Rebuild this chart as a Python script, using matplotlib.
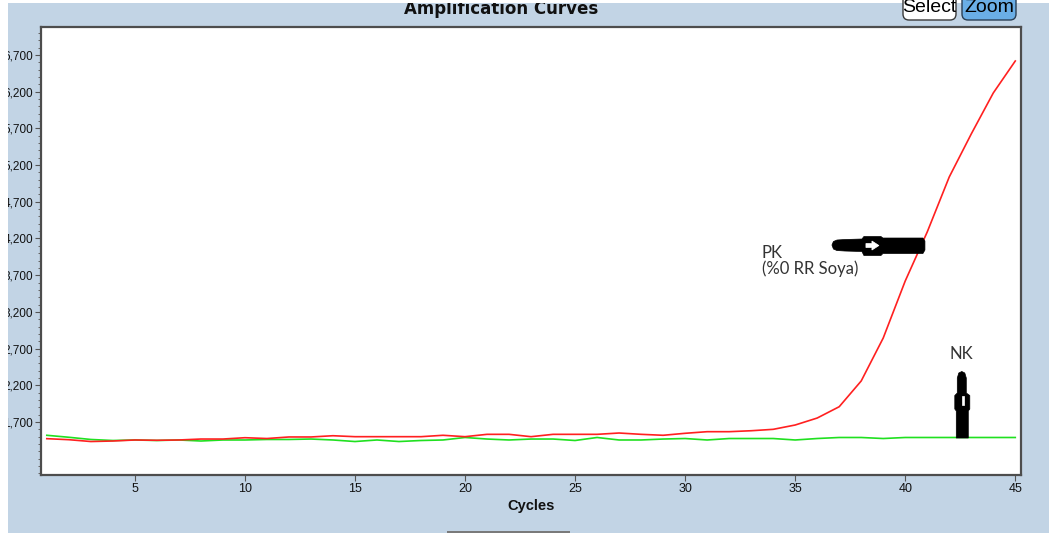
import matplotlib
matplotlib.use("Agg")
import matplotlib.pyplot as plt
import matplotlib.transforms as mtransforms
from matplotlib.patches import Rectangle, Polygon, FancyBboxPatch
from matplotlib.ticker import MultipleLocator, FuncFormatter

# ---------------- data ----------------
cycles = list(range(1, 46))
pk_values = [1473, 1459, 1434, 1441, 1455, 1451, 1455, 1468, 1468, 1486,
             1475, 1496, 1496, 1513, 1500, 1500, 1500, 1500, 1519, 1500,
             1532, 1532, 1500, 1532, 1532, 1532, 1550, 1532, 1519, 1546,
             1568, 1568, 1581, 1600, 1659, 1754, 1908, 2259, 2844, 3621,
             4289, 5038, 5624, 6182, 6618]
nk_values = [1519, 1492, 1462, 1448, 1455, 1448, 1455, 1441, 1455, 1455,
             1462, 1462, 1468, 1455, 1434, 1455, 1434, 1448, 1455, 1489,
             1468, 1455, 1468, 1468, 1448, 1489, 1455, 1455, 1468, 1475,
             1455, 1475, 1475, 1475, 1455, 1475, 1489, 1489, 1475, 1489,
             1489, 1489, 1489, 1489, 1489]
x_ticks = [5, 10, 15, 20, 25, 30, 35, 40, 45]
y_ticks = [1700, 2200, 2700, 3200, 3700, 4200, 4700, 5200, 5700, 6200, 6700]
title = "Amplification Curves"
x_label = "Cycles"
pk_label_1 = "PK"
pk_label_2 = "(%0 RR Soya)"
nk_label = "NK"

# ---------------- figure ----------------
W, H = 1049, 533
BG = "#c2d4e5"
fig = plt.figure(figsize=(W / 100, H / 100), dpi=100, facecolor=BG)
ax = fig.add_axes([41 / W, 58 / H, 980 / W, 448 / H])
ax.set_facecolor("white")

ax.plot(cycles, nk_values, color="#20e020", lw=1.2, zorder=3)
ax.plot(cycles, pk_values, color="#ff2020", lw=1.2, zorder=4)

ax.set_xlim(0.736, 45.26)
ax.set_ylim(978, 7081)
ax.set_xticks(x_ticks)
ax.set_yticks(y_ticks)
ax.yaxis.set_minor_locator(MultipleLocator(100))
ax.yaxis.set_major_formatter(FuncFormatter(lambda v, p: f"{v:,.0f}"))

for sp in ax.spines.values():
    sp.set_color("#4d4d4d")
    sp.set_linewidth(1.6)

ax.tick_params(axis="both", which="major", length=4.3, width=0.8, color="#555555",
               labelcolor="#111111", pad=1.5)
ax.tick_params(axis="x", which="major", labelsize=9)
ax.tick_params(axis="y", which="major", labelsize=8.5)
ax.tick_params(axis="y", which="minor", length=2.2, width=0.7, color="#666666")
for lab in ax.get_xticklabels() + ax.get_yticklabels():
    lab.set_fontfamily("Liberation Sans")

ax.set_xlabel(x_label, fontsize=10.5, fontweight="bold", family="Liberation Sans",
              labelpad=3, color="#111111")

# annotation texts
ax.text(33.49, 3930, pk_label_1, fontsize=12, family="Lato", color="#333333",
        ha="left", va="baseline", zorder=6)
ax.text(33.49, 3717, pk_label_2, fontsize=12, family="Lato", color="#333333",
        ha="left", va="baseline", zorder=6)
ax.text(42.56, 2554, nk_label, fontsize=12, family="Lato", color="#333333",
        ha="center", va="baseline", zorder=6)


# annotation arrows (shapes defined in pixel offsets around an anchor point)
def pixel_shape(anchor_data, anchor_img, verts_img, color, z=7):
    ax_disp = ax.transData.transform(anchor_data)
    ax_x, ax_y = anchor_img
    verts = [(x - ax_x, -(y - ax_y)) for (x, y) in verts_img]
    tr = mtransforms.Affine2D().translate(ax_disp[0], ax_disp[1])
    p = Polygon(verts, closed=True, facecolor=color, edgecolor=color,
                lw=0.5, transform=tr, zorder=z)
    fig.add_artist(p)


pk_anchor_img = (924, 245)
pk_shape = [(832, 245), (833.5, 241.5), (837, 240), (845, 239.5), (862, 239),
            (864, 236.5), (881, 236.5), (883, 238), (923, 238), (925, 241),
            (925, 250), (923, 253.5), (883, 253.5), (881, 255.5), (864, 255.5),
            (862, 251.5), (845, 251), (837, 250.5), (833.5, 249)]
pk_white = [(866, 243.5), (872, 243.5), (872, 241), (879, 245.5), (872, 250),
            (872, 247.5), (866, 247.5)]
pixel_shape((40.85, 4111), pk_anchor_img, pk_shape, "black")
pixel_shape((40.85, 4111), pk_anchor_img, pk_white, "white", z=8)

nk_anchor_img = (964, 438)
nk_shape = [(964, 371.5), (967, 373), (968.5, 378), (968.5, 393), (972, 395.5),
            (972, 409), (970.5, 411), (970.5, 438), (958.5, 438), (958.5, 411),
            (957, 409), (957, 395.5), (959.5, 393), (959.5, 378), (961, 373)]
nk_white = [(964, 396), (966, 396), (966, 405), (964, 405)]
pixel_shape((42.57, 1482), nk_anchor_img, nk_shape, "black")
pixel_shape((42.57, 1482), nk_anchor_img, nk_white, "white", z=8)

# title (cut at top like in the screenshot)
fig.text(501.5 / W, (H - 13.5) / H, title, fontsize=12, fontweight="bold",
         family="DejaVu Sans", color="#111111", ha="center", va="baseline")

# screenshot chrome
ident = mtransforms.IdentityTransform()
fig.add_artist(Rectangle((0, H - 3), W, 3, transform=ident, facecolor="white",
                         edgecolor="none", zorder=20))
fig.add_artist(Rectangle((0, 0), 8, H, transform=ident, facecolor="white",
                         edgecolor="none", zorder=20))
fig.add_artist(Rectangle((447, 0), 123, 2.5, transform=ident, facecolor="#7a7a7a",
                         edgecolor="none", zorder=20))

btn_select = FancyBboxPatch((903, H - 20), 53, 40, boxstyle="round,pad=0,rounding_size=6",
                            transform=ident, facecolor="white", edgecolor="#3a3a3a",
                            lw=1.0, zorder=21)
btn_zoom = FancyBboxPatch((962, H - 20), 54, 40, boxstyle="round,pad=0,rounding_size=6",
                          transform=ident, facecolor="#6aaee6", edgecolor="#2a3f55",
                          lw=1.0, zorder=21)
fig.add_artist(btn_select)
fig.add_artist(btn_zoom)
fig.text(929.5 / W, (H - 12) / H, "Select", fontsize=14, family="Liberation Sans",
         color="black", ha="center", va="baseline", zorder=22)
fig.text(989 / W, (H - 12) / H, "Zoom", fontsize=14, family="Liberation Sans",
         color="black", ha="center", va="baseline", zorder=22)

fig.savefig("out.png", dpi=100, facecolor=BG)
